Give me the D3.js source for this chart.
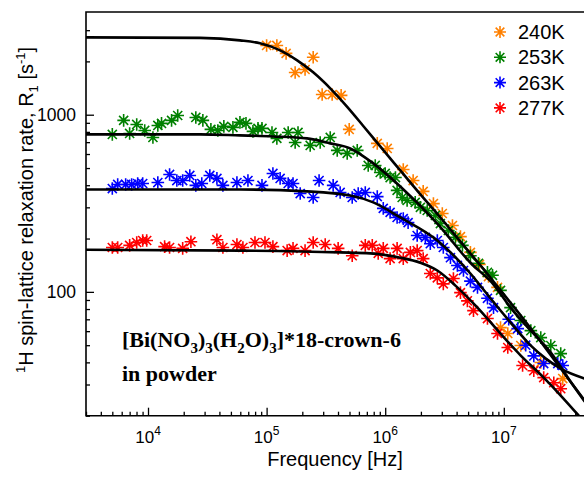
<!DOCTYPE html>
<html>
<head>
<meta charset="utf-8">
<title>1H R1 dispersion</title>
<script src="https://d3js.org/d3.v7.min.js"></script>
<style>
  body { margin: 0; background: #fff; }
  svg text { font-family: "Liberation Sans", Arial, sans-serif; fill: #000; }
</style>
</head>
<body>
<div id="chart"></div>
<script>
// measured points [frequency Hz, R1 s^-1]
var s240 = [[1.0e5,2460],[1.22e5,2460],[1.46e5,2220],[1.74e5,1730],[2.11e5,1800],[2.47e5,2110],
  [2.94e5,1300],[3.57e5,1300],[4.25e5,1285],[4.97e5,826],[8.57e5,689],[1.04e6,645],[1.42e6,491],
  [1.72e6,425],[2.09e6,369],[2.55e6,315],[3.03e6,277],[3.69e6,237],[4.31e6,205],[5.23e6,167],
  [6.23e6,143],[7.43e6,122],[8.85e6,106],[9.38e6,62.8],[1.08e7,58.2],[1.39e7,49.8],[2.05e7,39.9],[3.14e7,32.4]];

var s253 = [[5.0e3,774],[6.23e3,929],[7.0e3,784],[8.03e3,881],[9.38e3,815],[1.1e4,744],[1.21e4,870],
  [1.3e4,893],[1.58e4,929],[1.78e4,990],[2.53e4,965],[2.9e4,929],[3.39e4,826],[3.88e4,815],[4.36e4,859],
  [5.2e4,848],[5.96e4,905],[6.7e4,893],[7.67e4,805],[8.46e4,837],[9.14e4,837],[1.11e5,794],[1.22e5,735],
  [1.52e5,794],[1.74e5,697],[1.84e5,794],[2.33e5,671],[2.83e5,697],[3.44e5,744],[3.94e5,629],[4.78e5,605],
  [5.81e5,629],[7.19e5,517],[8.24e5,517],[9.08e5,472],[1.0e6,466],[1.1e6,442],[1.22e6,442],[1.26e6,374],
  [1.39e6,341],[1.53e6,328],[1.79e6,320],[1.98e6,300],[2.26e6,288],[2.65e6,270],[2.92e6,243],[3.41e6,222],
  [3.91e6,203],[4.48e6,183],[5.23e6,160],[6.11e6,145],[7.28e6,129],[8.03e6,124],[9.38e6,102],[1.14e7,81.5],
  [1.39e7,68.9],[1.69e7,60.4],[2.05e7,55.2],[2.49e7,49.8],[3.02e7,44.8]];

var s263 = [[5.0e3,383],[5.55e3,404],[6.48e3,404],[7.28e3,404],[8.18e3,409],[9.02e3,409],[1.21e4,414],
  [1.52e4,460],[1.75e4,425],[1.96e4,425],[2.25e4,454],[2.53e4,399],[2.84e4,409],[3.32e4,454],[3.81e4,437],
  [4.28e4,399],[5.62e4,414],[6.96e4,425],[9.14e4,399],[1.13e5,466],[1.30e5,437],[1.52e5,409],[1.67e5,409],
  [1.92e5,359],[2.47e5,341],[2.77e5,425],[3.64e5,399],[4.17e5,364],[5.27e5,341],[5.92e5,359],[6.79e5,364],
  [8.57e5,345],[9.63e5,296],[1.10e6,281],[1.26e6,263],[1.42e6,259],[1.56e6,246],[1.86e6,208],[2.18e6,203],
  [2.40e6,187],[2.75e6,195],[3.09e6,178],[3.55e6,156],[4.06e6,141],[4.57e6,132],[5.23e6,115],[6.0e6,106],
  [7.28e6,92],[8.19e6,81.5],[1.10e7,70],[1.31e7,62],[1.53e7,50],[1.79e7,43.5],[2.17e7,39.4],[2.85e7,39.4],[3.14e7,38.4]];

var s277 = [[5.0e3,178],[5.55e3,178],[7.0e3,183],[8.03e3,190],[9.02e3,195],[9.75e3,195],[1.38e4,180],
  [1.52e4,178],[1.96e4,176],[2.30e4,192],[3.81e4,197],[4.28e4,178],[5.62e4,185],[6.31e4,178],[7.98e4,190],
  [9.69e4,190],[1.13e5,180],[1.49e5,171],[1.67e5,176],[2.11e5,171],[2.47e5,190],[3.12e5,185],[4.01e5,176],
  [5.27e5,160],[6.79e5,183],[7.78e5,183],[8.73e5,165],[9.63e5,176],[1.10e6,154],[1.26e6,176],[1.42e6,154],
  [1.63e6,167],[1.86e6,171],[2.09e6,154],[2.40e6,127],[2.75e6,120],[3.09e6,111],[3.76e6,119],[4.31e6,99],
  [4.93e6,89],[5.55e6,78.4],[7.28e6,70.7],[8.85e6,58.2],[1.08e7,48.5],[1.44e7,38.4],[1.79e7,35.9],
  [2.17e7,32.8],[2.64e7,30.7],[3.02e7,28.4]];

// fit curves
var fit240 = [[3000,2734],[2.74e4,2716],[5.96e4,2629],[8.79e4,2528],[1.30e5,2308],[1.81e5,2027],[2.47e5,1734],
  [3.44e5,1408],[4.78e5,1107],[6.53e5,864],[9.08e5,662],[1.34e6,485],[1.98e6,355],[2.92e6,263],[4.31e6,192],
  [6.35e6,141],[9.38e6,102],[1.39e7,73.5],[2.05e7,52.4],[3.02e7,36.9],[4.82e7,24.3]];
var fit253 = [[3000,774],[2.74e4,774],[5.96e4,764],[1.13e5,754],[2.19e5,735],[3.44e5,689],[5.07e5,645],
  [7.93e5,531],[1.34e6,393],[2.75e6,243],[5.23e6,146],[8.2e6,110],[1.14e7,81.5],[1.69e7,60.4],[2.49e7,45.4],
  [3.67e7,31.0],[4.82e7,24.0]];
var fit263 = [[3000,378],[5.96e4,378],[2.19e5,369],[5.07e5,350],[7.93e5,320],[1.34e6,263],[2.75e6,195],
  [5.23e6,127],[7.28e6,96.5],[1.14e7,67.1],[1.69e7,49.7],[2.26e7,42],[3.02e7,36.9],[4.82e7,32.4]];
var fit277 = [[3000,173],[5.96e4,171],[4.17e5,167],[7.48e5,165],[1.34e6,156],[1.98e6,146],[2.75e6,132],
  [3.91e6,108.5],[6.0e6,81.5],[9.38e6,58.1],[1.39e7,43.7],[2.17e7,32.8],[3.02e7,26],[4.29e7,20]];

var seriesNames = ["240K", "253K", "263K", "277K"];
var seriesColors = ["#FF8000", "#008000", "#0000FF", "#FF0000"];
var seriesData = [s240, s253, s263, s277];
var seriesFits = [fit240, fit253, fit263, fit277];

var xMajor = [1e4, 1e5, 1e6, 1e7];
var xMajorExp = ["4", "5", "6", "7"];
var yMajor = [100, 1000];
var yMajorLabels = ["100", "1000"];

var W = 584, H = 480;
var padL = 86, padT = 12, padB = 415.7, padR = 586.7;

var svg = d3.select("#chart").append("svg")
    .attr("width", W)
    .attr("height", H);

var x = d3.scaleLog().domain([3000, 5e7]).range([padL, padR]);
var y = d3.scaleLog().domain([20, 3800]).range([padB, padT]);

svg.append("clipPath").attr("id", "plotclip")
  .append("rect")
    .attr("x", padL).attr("y", padT)
    .attr("width", padR - padL).attr("height", padB - padT);

function isMajor(d) {
    var l = Math.log10(d);
    return Math.abs(l - Math.round(l)) < 1e-9;
}
var xMinor = x.ticks().filter(function(d) { return !isMajor(d); });
var yMinor = y.ticks().filter(function(d) { return !isMajor(d); });

function styleAxis(g) {
    g.select(".domain").remove();
    g.selectAll(".tick line").attr("stroke", "#000").attr("stroke-width", 1.3);
}

// bottom axis, ticks pointing in
svg.append("g")
    .attr("transform", "translate(0," + padB + ")")
    .call(d3.axisBottom(x).tickValues(xMinor).tickSize(-4).tickSizeOuter(0).tickFormat(""))
    .call(styleAxis);
svg.append("g")
    .attr("transform", "translate(0," + padB + ")")
    .call(d3.axisBottom(x).tickValues(xMajor).tickSize(-8).tickSizeOuter(0).tickFormat(""))
    .call(styleAxis);

// left axis
svg.append("g")
    .attr("transform", "translate(" + padL + ",0)")
    .call(d3.axisLeft(y).tickValues(yMinor).tickSize(-4).tickSizeOuter(0).tickFormat(""))
    .call(styleAxis);
svg.append("g")
    .attr("transform", "translate(" + padL + ",0)")
    .call(d3.axisLeft(y).tickValues(yMajor).tickSize(-8).tickSizeOuter(0).tickPadding(10)
        .tickFormat(function(d, i) { return yMajorLabels[i]; }))
    .call(styleAxis)
    .call(function(g) {
        g.selectAll("text").attr("font-size", 17.5).attr("font-family", "Liberation Sans, Arial, sans-serif");
    });

// x tick labels 10^n
var xl = svg.append("g").selectAll("text")
    .data(xMajor)
    .enter().append("text")
    .attr("x", function(d) { return x(d); })
    .attr("y", 443)
    .attr("text-anchor", "middle")
    .attr("font-size", 17);
xl.append("tspan").text("10");
xl.append("tspan").attr("dy", -8).attr("font-size", 12)
    .text(function(d, i) { return xMajorExp[i]; });

// frame
svg.append("path")
    .attr("d", "M" + padR + "," + padT + "H" + padL + "V" + padB + "H" + padR)
    .attr("fill", "none")
    .attr("stroke", "#000")
    .attr("stroke-width", 1.6);

// fit lines
var line = d3.line()
    .x(function(d) { return x(d[0]); })
    .y(function(d) { return y(d[1]); })
    .curve(d3.curveMonotoneX);

var plot = svg.append("g").attr("clip-path", "url(#plotclip)");

function starPath(cx, cy, r) {
    var d = r * 0.72;
    return "M" + (cx - r) + "," + cy + "H" + (cx + r) +
        "M" + cx + "," + (cy - r) + "V" + (cy + r) +
        "M" + (cx - d) + "," + (cy - d) + "L" + (cx + d) + "," + (cy + d) +
        "M" + (cx - d) + "," + (cy + d) + "L" + (cx + d) + "," + (cy - d);
}

// stars
seriesData.forEach(function(s, i) {
    plot.append("g")
        .selectAll("path")
        .data(s)
        .enter().append("path")
        .attr("d", function(d) { return starPath(x(d[0]), y(d[1]), 6.3); })
        .attr("fill", "none")
        .attr("stroke", seriesColors[i])
        .attr("stroke-width", 1.6);
});

seriesFits.forEach(function(f) {
    plot.append("path")
        .datum(f)
        .attr("fill", "none")
        .attr("stroke", "#000")
        .attr("stroke-width", 2.6)
        .attr("d", line);
});

// legend
var legend = svg.append("g");
seriesNames.forEach(function(name, i) {
    var cy = 32 + i * 25.3;
    legend.append("path")
        .attr("d", starPath(500, cy, 6))
        .attr("fill", "none")
        .attr("stroke", seriesColors[i])
        .attr("stroke-width", 1.6);
    legend.append("text")
        .attr("x", 518)
        .attr("y", cy + 7)
        .attr("font-size", 20)
        .text(name);
});

// axis titles
svg.append("text")
    .attr("x", 335)
    .attr("y", 466)
    .attr("text-anchor", "middle")
    .attr("font-size", 20)
    .text("Frequency [Hz]");

var yt = svg.append("text")
    .attr("transform", "translate(33,210) rotate(-90)")
    .attr("text-anchor", "middle")
    .attr("font-size", 20);
yt.append("tspan").attr("font-size", 13).attr("dy", -8).text("1");
yt.append("tspan").attr("dy", 8).text("H spin-lattice relaxation rate, R");
yt.append("tspan").attr("font-size", 13).attr("dy", 5).text("1");
yt.append("tspan").attr("dy", -5).text(" [s");
yt.append("tspan").attr("font-size", 13).attr("dy", -8).text("-1");
yt.append("tspan").attr("dy", 8).text("]");

// sample label
var ann = svg.append("text")
    .attr("x", 122)
    .attr("y", 347)
    .attr("font-size", 22)
    .attr("font-weight", "bold")
    .style("font-family", "'Liberation Serif', 'Times New Roman', serif");
var parts = [["[Bi(NO", 0], ["3", 1], [")", 0], ["3", 1], ["(H", 0], ["2", 1], ["O)", 0], ["3", 1], ["]*18-crown-6", 0]];
var prevSub = 0;
parts.forEach(function(p) {
    var dy = (p[1] - prevSub) * 6;
    var t = ann.append("tspan").attr("dy", dy).text(p[0]);
    if (p[1]) t.attr("font-size", 15);
    prevSub = p[1];
});
svg.append("text")
    .attr("x", 122)
    .attr("y", 381)
    .attr("font-size", 22)
    .attr("font-weight", "bold")
    .style("font-family", "'Liberation Serif', 'Times New Roman', serif")
    .text("in powder");
</script>
</body>
</html>
